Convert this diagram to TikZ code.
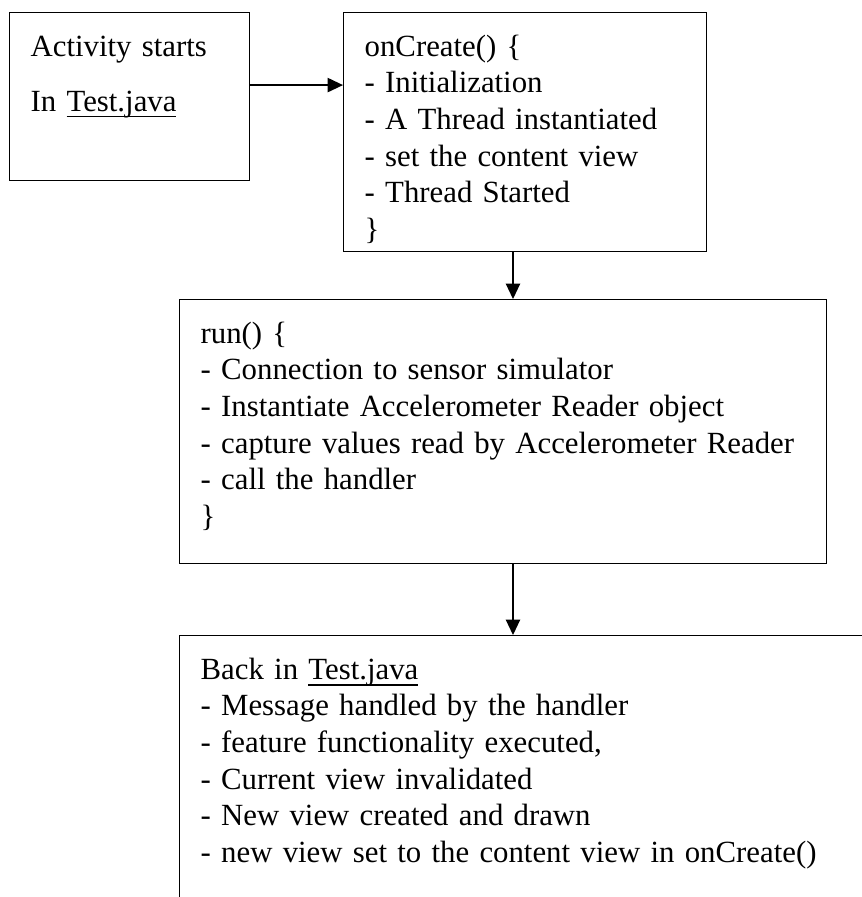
\documentclass[tikz,border=0pt]{standalone}
\usepackage{fontspec}
\setmainfont{Liberation Serif}
\usepackage{tikz}
\usetikzlibrary{arrows.meta, positioning, calc}
\newsavebox{\fnbox}
\newcommand{\fname}[1]{\sbox{\fnbox}{#1}\rlap{\rule[-2.3pt]{\wd\fnbox}{0.45pt}}\usebox{\fnbox}}

\begin{document}
\begin{tikzpicture}[
    x=0.375pt, y=-0.375pt,
    codebox/.style={draw, line width=0.5pt, rectangle, anchor=north west, align=left,
                    inner xsep=7.875pt, inner ysep=0pt, text height=16.4pt,
                    font=\fontsize{11.55}{13.7}\selectfont},
    flow/.style={-{Triangle[length=5.8pt, width=5.4pt]}, line width=0.5pt}
]
\path[use as bounding box, clip] (0,0) rectangle (862,897);
\node[codebox, text width=74.25pt, text depth=46.6pt] (start) at (9,12)
    {Activity starts\\[6.9pt]In \fname{Test.java}};
\node[codebox, text width=120.4pt, text depth=73.2pt] (oncreate) at (343,12)
    {onCreate() \{\\- Initialization\\- A Thread instantiated\\- set the content view\\- Thread Started\\\}};
\node[codebox, text width=226.9pt, text depth=82.6pt] (run) at (179,299)
    {run() \{\\- Connection to sensor simulator\\- Instantiate Accelerometer Reader object\\- capture values read by Accelerometer Reader\\- call the handler\\\}};
\node[codebox, text width=254.6pt, text depth=130pt] (back) at (179,635)
    {Back in \fname{Test.java}\\- Message handled by the handler\\- feature functionality executed,\\- Current view invalidated\\- New view created and drawn\\- new view set to the content view in onCreate()};
\coordinate (mid) at (513,0);
\draw[flow] ([yshift=-27.4pt]start.north east) -- ([yshift=-27.4pt]oncreate.north west);
\draw[flow] (oncreate.south -| mid) -- (run.north -| mid);
\draw[flow] (run.south -| mid) -- (back.north -| mid);
\end{tikzpicture}
\end{document}
